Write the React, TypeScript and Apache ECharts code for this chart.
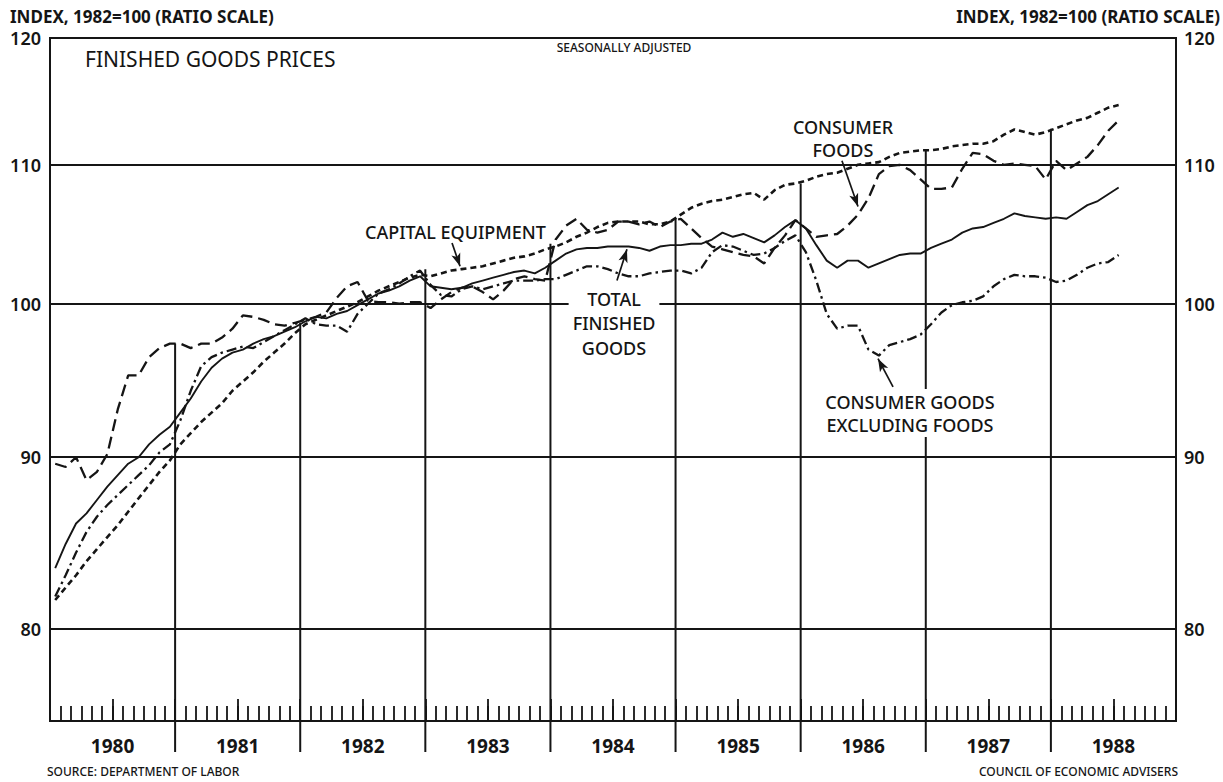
import React, { useEffect, useRef } from "react";
import * as echarts from "echarts";

// ---------- data (monthly, Jan 1980 – Jul 1988, index 1982 = 100) ----------
const years = ["1980", "1981", "1982", "1983", "1984", "1985", "1986", "1987", "1988"];

const totalFinished = [
  83.4, 84.8, 86.0, 86.6, 87.4, 88.2, 88.9, 89.6, 90.0, 90.8, 91.4, 91.9,
  92.8, 93.7, 94.8, 95.7, 96.3, 96.7, 96.9, 97.3, 97.6, 97.8, 98.1, 98.4,
  98.8, 99.1, 99.0, 99.3, 99.5, 99.9, 100.3, 100.7, 100.9, 101.2, 101.6, 101.9,
  101.2, 101.1, 101.0, 101.1, 101.4, 101.6, 101.8, 102.0, 102.2, 102.3, 102.1, 102.5,
  103.0, 103.5, 103.8, 103.9, 103.9, 104.0, 104.0, 104.0, 103.9, 103.7, 104.0, 104.1,
  104.1, 104.2, 104.2, 104.5, 105.0, 104.7, 104.9, 104.6, 104.3, 104.8, 105.4, 105.9,
  105.3, 104.1, 103.0, 102.5, 103.0, 103.0, 102.5, 102.8, 103.1, 103.4, 103.5, 103.5,
  103.9, 104.2, 104.5, 105.0, 105.3, 105.4, 105.7, 106.0, 106.4, 106.2, 106.1, 106.0,
  106.1, 106.0, 106.5, 107.0, 107.3, 107.8, 108.3,
];

const capitalEquipment = [
  81.6, 82.3, 83.0, 83.8, 84.5, 85.2, 85.9, 86.7, 87.5, 88.3, 89.1, 89.8,
  90.8, 91.5, 92.2, 92.8, 93.4, 94.2, 94.8, 95.4, 96.1, 96.7, 97.3, 98.0,
  98.6, 98.9, 99.2, 99.5, 99.8, 100.1, 100.5, 100.9, 101.2, 101.5, 101.8, 102.0,
  101.9, 102.1, 102.3, 102.4, 102.5, 102.6, 102.8, 103.0, 103.2, 103.3, 103.5, 103.8,
  104.0, 104.3, 104.7, 105.0, 105.4, 105.7, 105.8, 105.8, 105.8, 105.6, 105.6, 105.8,
  106.3, 106.8, 107.1, 107.3, 107.4, 107.6, 107.8, 107.9, 107.4, 108.1, 108.5, 108.6,
  108.8, 109.1, 109.3, 109.4, 109.7, 110.0, 110.1, 110.2, 110.6, 110.9, 111.0, 111.1,
  111.1, 111.2, 111.4, 111.5, 111.6, 111.6, 111.8, 112.3, 112.7, 112.5, 112.3, 112.5,
  112.8, 113.1, 113.4, 113.6, 114.0, 114.4, 114.6,
];

const consumerFoods = [
  89.6, 89.4, 90.0, 88.6, 89.1, 90.2, 93.0, 95.2, 95.2, 96.4, 97.0, 97.3,
  97.3, 97.0, 97.3, 97.3, 97.7, 98.3, 99.2, 99.1, 98.9, 98.6, 98.5, 98.7,
  98.9, 99.1, 99.4, 100.4, 101.2, 101.5, 100.2, 100.1, 100.1, 100.0, 100.1, 100.1,
  99.7, 100.3, 100.8, 101.1, 101.2, 100.8, 100.3, 100.9, 101.7, 101.9, 101.7, 101.6,
  104.5, 105.5, 106.0, 105.2, 105.0, 105.2, 105.8, 105.8, 105.6, 105.8, 105.4, 105.8,
  106.0, 105.3, 104.6, 104.0, 103.8, 103.6, 103.4, 103.3, 102.8, 103.9, 104.8, 105.9,
  105.3, 104.7, 104.8, 104.9, 105.5, 106.3, 107.5, 109.3, 109.9, 110.0, 109.6, 108.9,
  108.2, 108.2, 108.3, 109.7, 110.9, 110.8, 110.3, 110.0, 110.1, 110.0, 109.9, 108.9,
  110.3, 109.6, 110.1, 110.6, 111.5, 112.6, 113.4,
];

const consumerExFoods = [
  81.8, 83.0, 84.3, 85.5, 86.4, 87.1, 87.7, 88.3, 88.9, 89.5, 90.3, 90.8,
  92.3, 94.2, 95.8, 96.4, 96.7, 96.9, 97.1, 97.0, 97.4, 97.8, 98.2, 98.6,
  99.0, 98.6, 98.5, 98.5, 98.1, 99.3, 100.0, 100.7, 101.0, 101.4, 101.9, 102.3,
  101.3, 100.6, 100.5, 101.0, 101.2, 101.0, 101.2, 101.4, 101.6, 101.6, 101.6, 101.7,
  101.7, 102.0, 102.3, 102.6, 102.6, 102.4, 102.1, 101.9, 101.9, 102.1, 102.2, 102.3,
  102.3, 102.1, 102.5, 103.6, 104.1, 104.0, 103.7, 103.4, 103.5, 103.9, 104.4, 104.8,
  103.6, 101.6, 99.3, 98.3, 98.5, 98.5, 96.9, 96.5, 97.2, 97.4, 97.6, 97.9,
  98.6, 99.4, 99.9, 100.1, 100.2, 100.5, 101.2, 101.7, 102.0, 101.9, 101.9, 101.8,
  101.5, 101.6, 102.0, 102.5, 102.8, 102.9, 103.4,
];

// height (index value) reached by the year-boundary rules, 1981 .. 1988
const yearRuleTops = [97.3, 98.7, 102.4, 104.2, 106.0, 108.6, 111.1, 112.75];
const gridValues = [80, 90, 100, 110, 120];

const Y_MIN = 75.1;
const Y_MAX = 120;
const MONTHS = 108;

const INK = "#151515";
const FONT = "'Noto Sans', 'DejaVu Sans', sans-serif";

const toPoints = (arr: number[]) => arr.map((v, i) => [i + 0.5, v]);

export default function App() {
  const ref = useRef<HTMLDivElement>(null);

  useEffect(() => {
    if (!ref.current) return;
    const chart = echarts.init(ref.current, undefined, { renderer: "svg" });

    const gridLines: any[] = [];
    gridValues.forEach((v) => {
      gridLines.push({
        yAxis: v,
        label: { show: true, position: "start", distance: 9, formatter: String(v) },
      });
      gridLines.push({
        yAxis: v,
        label: { show: true, position: "end", distance: 8, formatter: String(v) },
      });
    });

    const arrow = (from: number[], to: number[]) => [
      { coord: from, symbol: "none" },
      { coord: to, symbol: "arrow", symbolSize: [7, 13] },
    ];

    const txt = (
      text: string,
      x: number,
      y: number,
      font: string,
      align: string,
      lineHeight?: number,
      masked?: boolean
    ) => ({
      type: "text",
      x,
      y,
      z: 100,
      silent: true,
      style: {
        text,
        font,
        fill: INK,
        lineHeight,
        textAlign: align,
        align,
        textVerticalAlign: "middle",
        verticalAlign: "middle",
        ...(masked ? { backgroundColor: "#ffffff", padding: [1, 4, 1, 4] } : {}),
      },
    });

    const option: any = {
      animation: false,
      backgroundColor: "#ffffff",
      grid: { left: 50, right: 47, top: 38, bottom: 61, show: true, borderColor: INK, borderWidth: 2, backgroundColor: "transparent" },
      xAxis: [
        {
          type: "value",
          min: 0,
          max: MONTHS,
          interval: 1,
          position: "bottom",
          axisLine: { show: true, onZero: false, lineStyle: { color: INK, width: 2 } },
          axisTick: { show: true, inside: true, length: 15, lineStyle: { color: INK, width: 1.8 } },
          axisLabel: { show: false },
          splitLine: { show: false },
        },
        {
          type: "value",
          min: 0,
          max: MONTHS,
          interval: 6,
          position: "bottom",
          axisLine: { show: false, onZero: false },
          axisTick: { show: true, inside: true, length: 22, lineStyle: { color: INK, width: 1.8 } },
          axisLabel: {
            show: true,
            margin: 15,
            color: INK,
            fontFamily: FONT,
            fontWeight: 700,
            fontSize: 19,
            formatter: (v: number) => (v % 12 === 6 ? years[(v - 6) / 12] : ""),
          },
          splitLine: { show: false },
        },
      ],
      yAxis: {
        type: "log",
        logBase: 10,
        min: Y_MIN,
        max: Y_MAX,
        axisLine: { show: false },
        axisTick: { show: false },
        axisLabel: { show: false },
        splitLine: { show: false },
      },
      series: [
        {
          type: "custom",
          name: "year rules",
          xAxisIndex: 0,
          silent: true,
          clip: false,
          data: yearRuleTops.map((t, k) => [12 * (k + 1), t]),
          renderItem: (params: any, api: any) => {
            const x = api.value(0);
            const top = api.coord([x, api.value(1)]);
            const bottom = api.coord([x, Y_MIN]);
            return {
              type: "line",
              shape: { x1: top[0], y1: top[1], x2: top[0], y2: bottom[1] + 31 },
              style: { stroke: INK, lineWidth: 2 },
            };
          },
          z: 1,
        },
        {
          type: "line",
          name: "Total finished goods",
          data: toPoints(totalFinished),
          showSymbol: false,
          lineStyle: { color: INK, width: 1.9, type: "solid" },
          z: 3,
          markLine: {
            silent: true,
            symbol: ["none", "none"],
            lineStyle: { color: INK, width: 2, type: "solid" },
            label: { color: INK, fontFamily: FONT, fontWeight: 600, fontSize: 18 },
            data: gridLines,
          },
        },
        {
          type: "line",
          name: "Capital equipment",
          data: toPoints(capitalEquipment),
          showSymbol: false,
          lineStyle: { color: INK, width: 2.6, type: [6, 4] },
          z: 3,
          markLine: {
            silent: true,
            symbol: ["none", "arrow"],
            lineStyle: { color: INK, width: 1.7, type: "solid" },
            label: { show: false },
            data: [
              arrow([38.56, 104.25], [39.33, 102.6]),
              arrow([54.38, 101.6], [55.34, 103.8]),
              arrow([75.96, 110.3], [77.5, 106.9]),
              arrow([80.86, 94.45], [79.42, 96.3]),
            ],
          },
        },
        {
          type: "line",
          name: "Consumer foods",
          data: toPoints(consumerFoods),
          showSymbol: false,
          lineStyle: { color: INK, width: 2.3, type: [12, 6] },
          z: 3,
        },
        {
          type: "line",
          name: "Consumer goods excluding foods",
          data: toPoints(consumerExFoods),
          showSymbol: false,
          lineStyle: { color: INK, width: 2.3, type: [10, 4, 2.5, 4] },
          z: 3,
        },
      ],
      graphic: [
        txt("INDEX, 1982=100 (RATIO SCALE)", 10, 16, `700 17px ${FONT}`, "left"),
        txt("INDEX, 1982=100 (RATIO SCALE)", 1220, 16, `700 17px ${FONT}`, "right"),
        txt("SEASONALLY ADJUSTED", 624, 47, `500 12px ${FONT}`, "center"),
        txt("FINISHED GOODS PRICES", 85, 59, `400 21px ${FONT}`, "left"),
        txt("CAPITAL EQUIPMENT", 365, 232, `500 18px ${FONT}`, "left"),
        txt("TOTAL\nFINISHED\nGOODS", 614, 323, `500 18px ${FONT}`, "center", 24.5, true),
        txt("CONSUMER\nFOODS", 843, 138, `500 18px ${FONT}`, "center", 23),
        txt("CONSUMER GOODS\nEXCLUDING FOODS", 910, 413, `500 18px ${FONT}`, "center", 23, true),
        txt("SOURCE: DEPARTMENT OF LABOR", 47, 771, `500 12px ${FONT}`, "left"),
        txt("COUNCIL OF ECONOMIC ADVISERS", 1178, 771, `500 12px ${FONT}`, "right"),
      ],
    };

    chart.setOption(option);
    return () => chart.dispose();
  }, []);

  return (
    <div
      ref={ref}
      style={{ position: "fixed", left: 0, top: 0, width: 1223, height: 782, background: "#fff" }}
    />
  );
}
